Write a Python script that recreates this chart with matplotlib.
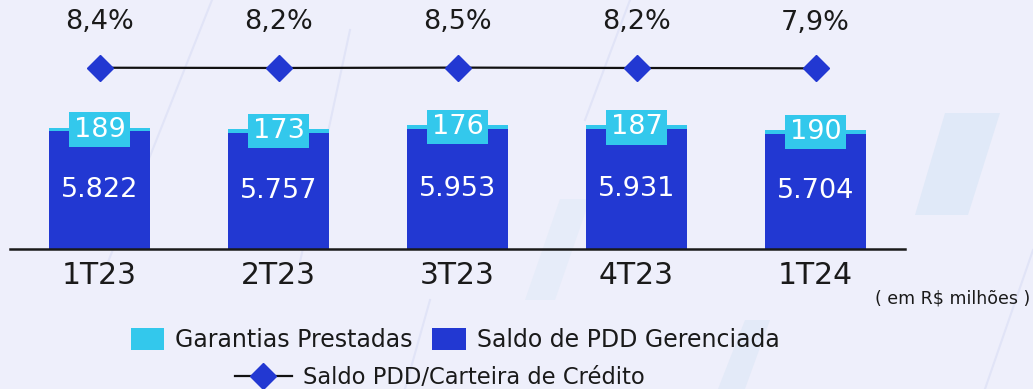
import matplotlib
matplotlib.use('Agg')
import matplotlib.pyplot as plt
from matplotlib.patches import Patch, Polygon
from matplotlib.lines import Line2D

plt.rcParams['font.family'] = ['DejaVu Sans']

# Data (R$ milhões)
quarters = ['1T23', '2T23', '3T23', '4T23', '1T24']
pdd_gerenciada = [5822, 5757, 5953, 5931, 5704]
garantias = [189, 173, 176, 187, 190]
pdd_carteira = [8.4, 8.2, 8.5, 8.2, 7.9]

bg = '#EEEFFB'
dark_blue = '#2238D2'
cyan = '#33C8EC'
ink = '#1a1a1a'
W, H = 1033, 389

fig = plt.figure(figsize=(W / 100, H / 100), dpi=100, facecolor=bg)

# faint background shapes (pixel coords, top-left origin)
def px_poly(pts, color, alpha=1.0):
    xy = [(x / W, 1 - y / H) for x, y in pts]
    fig.add_artist(Polygon(xy, closed=True, transform=fig.transFigure,
                           facecolor=color, edgecolor='none', alpha=alpha, zorder=0))

def px_line(p0, p1, color='#E1E4F7', lw=1.5):
    fig.add_artist(Line2D([p0[0] / W, p1[0] / W], [1 - p0[1] / H, 1 - p1[1] / H],
                          transform=fig.transFigure, color=color, lw=lw, zorder=0))

px_poly([(945, 113), (1000, 113), (968, 215), (915, 215)], '#E0E9F8')
px_poly([(560, 199), (590, 199), (555, 300), (525, 300)], '#E6ECF9')
px_poly([(745, 320), (770, 320), (745, 389), (718, 389)], '#E3EAF8')
px_line((212, 0), (108, 262))
px_line((350, 30), (300, 262))
px_line((630, 0), (585, 120))
px_line((1033, 250), (985, 389))
px_line((430, 300), (405, 389))

x = list(range(len(quarters)))
ax = fig.add_axes([10 / W, 140 / H, 895 / W, 249 / H])
ax.set_facecolor('none')
ax.bar(x, pdd_gerenciada, width=0.56, color=dark_blue, zorder=2)
ax.bar(x, garantias, width=0.56, bottom=pdd_gerenciada, color=cyan, zorder=2)

for i in x:
    ax.text(i, pdd_gerenciada[i] / 2, f'{pdd_gerenciada[i]:,}'.replace(',', '.'),
            ha='center', va='center', color='white', fontsize=19.5, zorder=3)
    ax.text(i, pdd_gerenciada[i] + garantias[i] / 2, str(garantias[i]),
            ha='center', va='center', color='white', fontsize=19.5, zorder=4,
            bbox=dict(boxstyle='square,pad=0.16', facecolor=cyan, edgecolor='none'))

ax.set_xlim(-0.5, 4.5)
ax.set_ylim(0, 12330)
for s in ['top', 'right', 'left']:
    ax.spines[s].set_visible(False)
ax.spines['bottom'].set_linewidth(1.8)
ax.spines['bottom'].set_color(ink)
ax.set_yticks([])
ax.set_xticks(x)
ax.set_xticklabels(quarters, fontsize=21.5, color=ink)
ax.tick_params(axis='x', length=0, pad=9)

# ratio line on its own wide-range axis
ax2 = ax.twinx()
ax2.set_ylim(8.2 - 0.727 * 200, 8.2 + 0.273 * 200)
ax2.axis('off')
ax2.plot(x, pdd_carteira, color='#111111', lw=1.6, marker='D', markersize=13,
         markerfacecolor=dark_blue, markeredgecolor=dark_blue, zorder=3)
for i in x:
    ax2.annotate(f'{pdd_carteira[i]:.1f}%'.replace('.', ','), (i, pdd_carteira[i]),
                 xytext=(0, 33), textcoords='offset points', ha='center', va='center',
                 fontsize=19.5, color=ink)

fig.text(1030 / W, 1 - 298 / H, '( em R$ milhões )', ha='right', va='center',
         fontsize=12.5, color=ink)

# two legend rows, each centred under the bars
h1 = [Patch(facecolor=cyan, edgecolor='none'), Patch(facecolor=dark_blue, edgecolor='none')]
fig.legend(h1, ['Garantias Prestadas', 'Saldo de PDD Gerenciada'], ncol=2,
           loc='center', bbox_to_anchor=(455 / W, 1 - 340 / H), frameon=False,
           fontsize=17, handlelength=1.42, handleheight=1.1, handletextpad=0.46,
           columnspacing=0.84, labelcolor=ink, borderpad=0, borderaxespad=0)
h2 = [Line2D([0], [0], color='#111111', lw=1.6, marker='D', markersize=13,
             markerfacecolor=dark_blue, markeredgecolor=dark_blue)]
fig.legend(h2, ['Saldo PDD/Carteira de Crédito'], loc='center',
           bbox_to_anchor=(440 / W, 1 - 377 / H), frameon=False, fontsize=16.3,
           handlelength=2.5, handletextpad=0.5, labelcolor=ink, borderpad=0,
           borderaxespad=0)

fig.savefig('out.png', dpi=100, facecolor=bg)
